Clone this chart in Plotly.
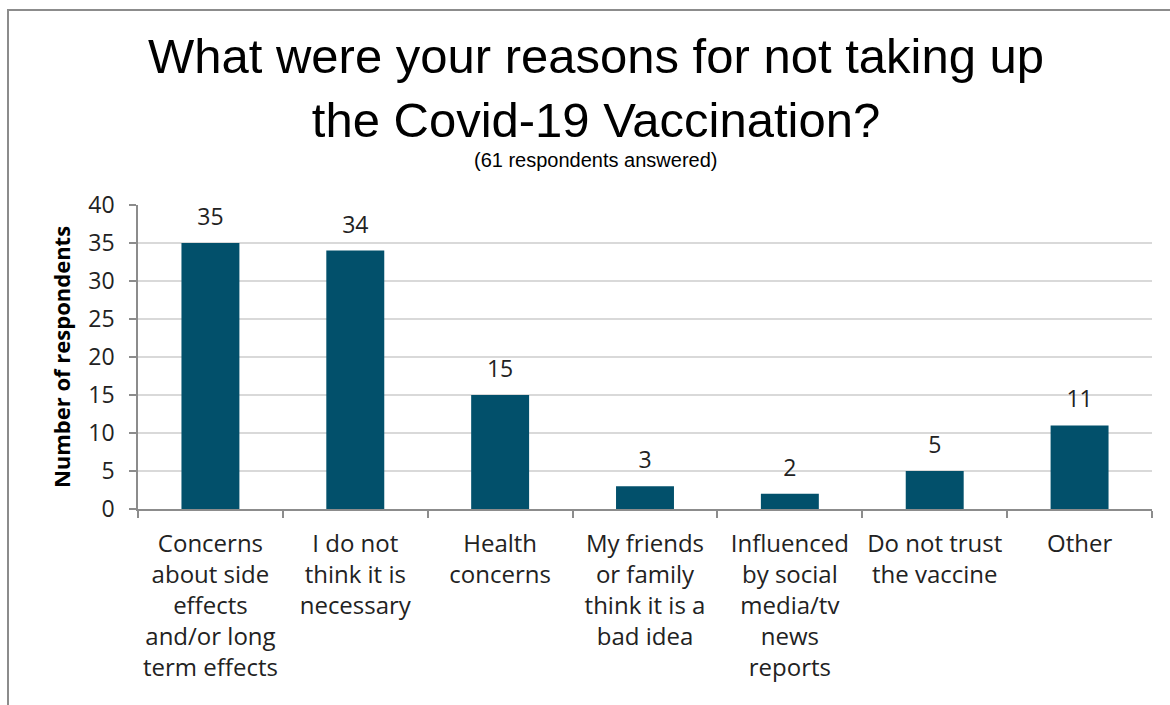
import plotly.graph_objects as go

categories = [
    "Concerns<br>about side<br>effects<br>and/or long<br>term effects",
    "I do not<br>think it is<br>necessary",
    "Health<br>concerns",
    "My friends<br>or family<br>think it is a<br>bad idea",
    "Influenced<br>by social<br>media/tv<br>news<br>reports",
    "Do not trust<br>the vaccine",
    "Other",
]
values = [35, 34, 15, 3, 2, 5, 11]
y_ticks = [0, 5, 10, 15, 20, 25, 30, 35, 40]

W, H = 1170, 705
L, R, T, B = 138, 18, 205, 196
PW, PH = W - L - R, H - T - B

BAR = "#02506B"
TXT = "#222222"
FONT = "Open Sans"

fig = go.Figure()
fig.add_trace(go.Bar(
    x=categories, y=values, marker=dict(color=BAR, line=dict(width=0)),
    hoverinfo="skip", showlegend=False,
))
fig.add_trace(go.Scatter(
    x=categories, y=values, mode="markers+text",
    text=[str(v) for v in values], textposition="top center",
    textfont=dict(family=FONT, size=23, color=TXT),
    marker=dict(size=18, opacity=0), hoverinfo="skip", showlegend=False,
))

def px_x(px):
    return (px - L) / PW

def px_y(py):
    return (H - B - py) / PH

fig.update_layout(
    width=W, height=H,
    margin=dict(l=L, r=R, t=T, b=B, autoexpand=False),
    paper_bgcolor="white", plot_bgcolor="white",
    bargap=0.6,
    title=dict(
        text="What were your reasons for not taking up<br>the Covid-19 Vaccination?",
        font=dict(family="Liberation Sans", size=49, color="#000000"),
        x=596 / W, xanchor="center", xref="container",
        y=1 - 73 / H, yanchor="top", yref="container",
    ),
    annotations=[dict(
        text="(61 respondents answered)", xref="paper", yref="paper",
        x=px_x(595), y=px_y(160), xanchor="center", yanchor="middle",
        showarrow=False, font=dict(family="Liberation Sans", size=20, color="#000000"),
    )],
    shapes=[dict(
        type="rect", xref="paper", yref="paper", layer="above",
        x0=px_x(8), x1=px_x(1300), y0=px_y(900), y1=px_y(10),
        line=dict(color="#8C8C8C", width=2), fillcolor="rgba(0,0,0,0)",
    )],
    xaxis=dict(
        showgrid=False, showline=True, linecolor="#8C8C8C", linewidth=1.5,
        ticks="outside", tickson="boundaries", ticklen=7, tickcolor="#8C8C8C", tickwidth=1.5,
        tickfont=dict(family=FONT, size=24, color=TXT), tickangle=0,
        ticklabelstandoff=12,
        fixedrange=True,
    ),
    yaxis=dict(
        range=[0, 40], tickmode="array", tickvals=y_ticks, ticktext=[str(t) for t in y_ticks],
        showgrid=True, gridcolor="#D9D9D9", gridwidth=1.5,
        showline=True, linecolor="#8C8C8C", linewidth=1.5,
        ticks="outside", ticklen=7, tickcolor="#8C8C8C", tickwidth=1.5,
        tickfont=dict(family=FONT, size=23, color=TXT),
        ticklabelstandoff=10,
        zeroline=False,
        title=dict(text="<b>Number of respondents</b>", standoff=12,
                   font=dict(family=FONT, size=22, color="#000000")),
        fixedrange=True,
    ),
)

fig.write_html("out.html")
